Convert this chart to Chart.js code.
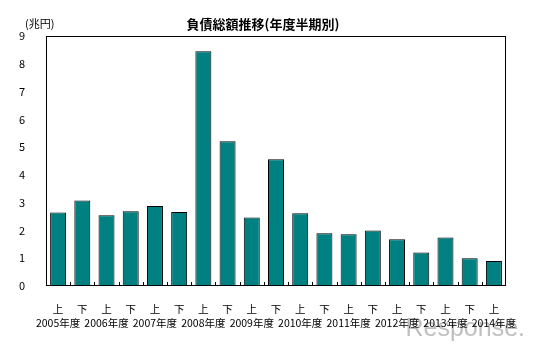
<!DOCTYPE html>
<html>
<head>
<meta charset="utf-8">
<script src="https://cdn.jsdelivr.net/npm/chart.js@4/dist/chart.umd.min.js"></script>
<style>
html,body{margin:0;padding:0;background:#fff;}
canvas{display:block;}
</style>
</head>
<body>
<canvas id="c" width="536" height="347"></canvas>
<script>
const halves = ['上','下','上','下','上','下','上','下','上','下','上','下','上','下','上','下','上','下','上'];
const years = ['2005年度','2006年度','2007年度','2008年度','2009年度','2010年度','2011年度','2012年度','2013年度','2014年度'];
const debt = [2.65,3.08,2.55,2.69,2.88,2.66,8.45,5.21,2.47,4.56,2.62,1.90,1.86,2.00,1.68,1.21,1.75,1.00,0.90];
const titleText = '負債総額推移(年度半期別)';
const unitText = '(兆円)';

const labels = halves.map((h,i) => i % 2 === 0 ? [h, years[i/2]] : [h, '']);
const FONT = '"Noto Sans CJK JP", "Liberation Sans", sans-serif';

const deco = {
  id: 'deco',
  beforeDraw(chart) {
    const ctx = chart.ctx;
    ctx.save();
    ctx.fillStyle = '#c0c0c0';
    ctx.font = '25px "Liberation Sans", sans-serif';
    ctx.textAlign = 'right';
    ctx.textBaseline = 'alphabetic';
    ctx.fillText('Response.', 525, 336);
    ctx.restore();
  },
  afterDraw(chart) {
    const ctx = chart.ctx;
    const a = chart.chartArea;
    const xs = chart.scales.x;
    ctx.save();
    ctx.strokeStyle = '#000';
    ctx.lineWidth = 1;
    ctx.strokeRect(a.left + 0.5, a.top + 0.5, a.right - a.left - 1, a.bottom - a.top - 1);
    ctx.beginPath();
    for (let i = 1; i < halves.length; i++) {
      const x = Math.round((xs.getPixelForValue(i - 1) + xs.getPixelForValue(i)) / 2) + 0.5;
      ctx.moveTo(x, a.bottom);
      ctx.lineTo(x, a.bottom - 4);
    }
    ctx.stroke();
    ctx.fillStyle = '#000';
    ctx.textBaseline = 'middle';
    ctx.font = '11px ' + FONT;
    ctx.textAlign = 'left';
    ctx.fillText(unitText, 25, 24);
    ctx.font = 'bold 13px ' + FONT;
    ctx.textAlign = 'center';
    ctx.fillText(titleText, 263, 24);
    ctx.restore();
  }
};

new Chart(document.getElementById('c'), {
  type: 'bar',
  data: {
    labels: labels,
    datasets: [{
      data: debt,
      backgroundColor: '#008080',
      borderColor: '#000',
      borderWidth: 1,
      barPercentage: 0.66,
      categoryPercentage: 1.0
    }]
  },
  options: {
    responsive: false,
    animation: false,
    layout: { padding: { left: 0, top: 36, right: 30, bottom: 0 } },
    plugins: { legend: { display: false }, tooltip: { enabled: false }, title: { display: false } },
    scales: {
      x: {
        grid: { display: false },
        border: { display: false },
        afterFit(s) { s.height = 61; },
        ticks: {
          autoSkip: false, maxRotation: 0, minRotation: 0,
          padding: 8, color: '#000',
          font: { family: FONT, size: 10.5, lineHeight: '14px' }
        }
      },
      y: {
        min: 0, max: 9,
        grid: { display: false },
        border: { display: false },
        afterFit(s) { s.width = 46; },
        ticks: {
          stepSize: 1, padding: 13, color: '#000',
          font: { family: FONT, size: 11 }
        }
      }
    }
  },
  plugins: [deco]
});
</script>
</body>
</html>
